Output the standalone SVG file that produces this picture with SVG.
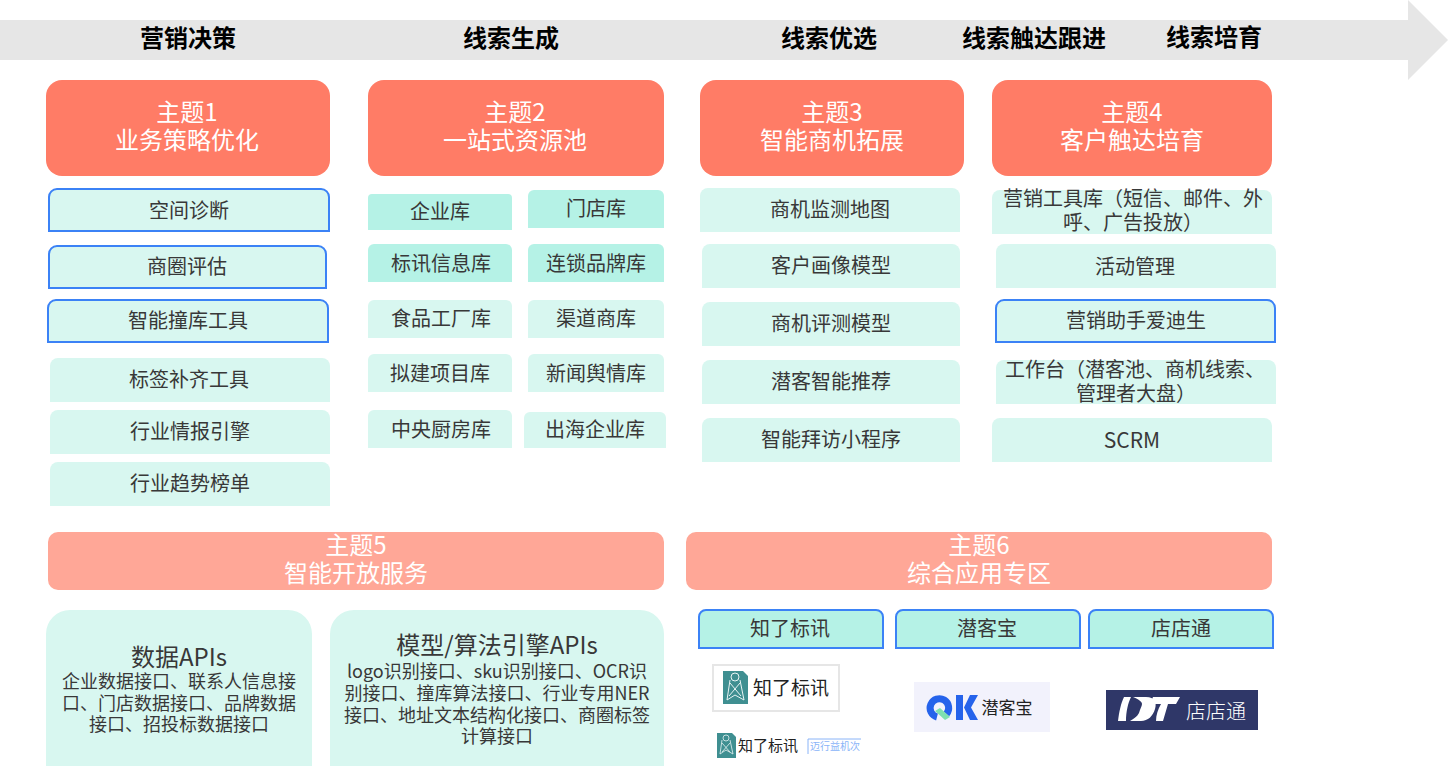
<svg xmlns="http://www.w3.org/2000/svg" width="1450" height="766" viewBox="0 0 1450 766">
<style>
text{font-family:"Noto Sans CJK SC","Noto Sans",sans-serif;text-anchor:middle}
.stage{font-size:24px;font-weight:700;fill:#000}
.head{font-size:24px;fill:#fff;font-weight:400}
.item{font-size:20px;fill:#383838}
.t{fill:#ff7c66}.t2{fill:#ffa797}
.l{fill:#d8f7f0}.d{fill:#b5f2e6}
.b{stroke:#3b82f6;stroke-width:2}
</style>
<rect width="1450" height="766" fill="#fff"/>
<g id="flow-arrow"><polygon points="0,20 1408,20 1408,0 1448,40 1408,80 1408,60 0,60" fill="#e6e6e6"/>
<text class="stage" x="188" y="47">营销决策</text><text class="stage" x="511" y="47">线索生成</text><text class="stage" x="829" y="47">线索优选</text><text class="stage" x="1034" y="47">线索触达跟进</text><text class="stage" x="1214" y="46">线索培育</text></g>
<g id="theme1"><rect class="t" x="46" y="80" width="284" height="96" rx="16"/><text class="head" x="187" y="121">主题1</text><text class="head" x="187" y="149">业务策略优化</text></g>
<g id="theme2"><rect class="t" x="368" y="80" width="296" height="96" rx="16"/><text class="head" x="515" y="121">主题2</text><text class="head" x="515" y="149">一站式资源池</text></g>
<g id="theme3"><rect class="t" x="700" y="80" width="264" height="96" rx="16"/><text class="head" x="832" y="121">主题3</text><text class="head" x="832" y="149">智能商机拓展</text></g>
<g id="theme4"><rect class="t" x="992" y="80" width="280" height="96" rx="16"/><text class="head" x="1132" y="121">主题4</text><text class="head" x="1132" y="149">客户触达培育</text></g>

<g id="n1"><path class="l b" d="M49,231V197a8,8 0 0 1 8-8H321a8,8 0 0 1 8,8V231Z"/><text class="item" x="189" y="218">空间诊断</text></g>
<g id="n2"><path class="l b" d="M49,288V254a8,8 0 0 1 8-8H318a8,8 0 0 1 8,8V288Z"/><text class="item" x="187" y="274">商圈评估</text></g>
<g id="n3"><path class="l b" d="M48,342V308a8,8 0 0 1 8-8H320a8,8 0 0 1 8,8V342Z"/><text class="item" x="188" y="328">智能撞库工具</text></g>
<g id="n4"><path class="l" d="M50,402V366a8,8 0 0 1 8-8H322a8,8 0 0 1 8,8V402Z"/><text class="item" x="189" y="387">标签补齐工具</text></g>
<g id="n5"><path class="l" d="M50,454V418a8,8 0 0 1 8-8H322a8,8 0 0 1 8,8V454Z"/><text class="item" x="190" y="439">行业情报引擎</text></g>
<g id="n6"><path class="l" d="M50,506V470a8,8 0 0 1 8-8H322a8,8 0 0 1 8,8V506Z"/><text class="item" x="190" y="491">行业趋势榜单</text></g>

<g id="n7"><path class="d" d="M368,230V198a4,4 0 0 1 4-4H508a4,4 0 0 1 4,4V230Z"/><text class="item" x="440" y="219">企业库</text></g>
<g id="n8"><path class="d" d="M368,282V250a6,6 0 0 1 6-6H506a6,6 0 0 1 6,6V282Z"/><text class="item" x="441" y="271">标讯信息库</text></g>
<g id="n9"><path class="l" d="M368,338V306a6,6 0 0 1 6-6H506a6,6 0 0 1 6,6V338Z"/><text class="item" x="441" y="326">食品工厂库</text></g>
<g id="n10"><path class="l" d="M368,392V360a6,6 0 0 1 6-6H506a6,6 0 0 1 6,6V392Z"/><text class="item" x="440" y="381">拟建项目库</text></g>
<g id="n11"><path class="l" d="M368,448V416a6,6 0 0 1 6-6H506a6,6 0 0 1 6,6V448Z"/><text class="item" x="441" y="437">中央厨房库</text></g>
<g id="n12"><path class="d" d="M528,228V196a6,6 0 0 1 6-6H658a6,6 0 0 1 6,6V228Z"/><text class="item" x="596" y="216">门店库</text></g>
<g id="n13"><path class="d" d="M528,282V250a6,6 0 0 1 6-6H658a6,6 0 0 1 6,6V282Z"/><text class="item" x="596" y="271">连锁品牌库</text></g>
<g id="n14"><path class="l" d="M528,338V306a6,6 0 0 1 6-6H658a6,6 0 0 1 6,6V338Z"/><text class="item" x="596" y="326">渠道商库</text></g>
<g id="n15"><path class="l" d="M528,392V360a6,6 0 0 1 6-6H658a6,6 0 0 1 6,6V392Z"/><text class="item" x="596" y="381">新闻舆情库</text></g>
<g id="n16"><path class="l" d="M524,448V418a6,6 0 0 1 6-6H660a6,6 0 0 1 6,6V448Z"/><text class="item" x="595" y="437">出海企业库</text></g>

<g id="n17"><path class="l" d="M700,232V196a8,8 0 0 1 8-8H952a8,8 0 0 1 8,8V232Z"/><text class="item" x="830" y="217">商机监测地图</text></g>
<g id="n18"><path class="l" d="M702,288V252a8,8 0 0 1 8-8H952a8,8 0 0 1 8,8V288Z"/><text class="item" x="831" y="273">客户画像模型</text></g>
<g id="n19"><path class="l" d="M702,346V310a8,8 0 0 1 8-8H952a8,8 0 0 1 8,8V346Z"/><text class="item" x="831" y="331">商机评测模型</text></g>
<g id="n20"><path class="l" d="M702,404V368a8,8 0 0 1 8-8H952a8,8 0 0 1 8,8V404Z"/><text class="item" x="831" y="389">潜客智能推荐</text></g>
<g id="n21"><path class="l" d="M702,462V426a8,8 0 0 1 8-8H952a8,8 0 0 1 8,8V462Z"/><text class="item" x="831" y="447">智能拜访小程序</text></g>

<g id="n22"><path class="l" d="M992,234V198a8,8 0 0 1 8-8H1264a8,8 0 0 1 8,8V234Z"/><text class="item" x="1133" y="206">营销工具库（短信、邮件、外</text><text class="item" x="1133" y="230">呼、广告投放）</text></g>
<g id="n23"><path class="l" d="M996,288V252a8,8 0 0 1 8-8H1268a8,8 0 0 1 8,8V288Z"/><text class="item" x="1135" y="274">活动管理</text></g>
<g id="n24"><path class="l b" d="M996,342V308a8,8 0 0 1 8-8H1267a8,8 0 0 1 8,8V342Z"/><text class="item" x="1136" y="328">营销助手爱迪生</text></g>
<g id="n25"><path class="l" d="M996,404V368a8,8 0 0 1 8-8H1268a8,8 0 0 1 8,8V404Z"/><text class="item" x="1135" y="377">工作台（潜客池、商机线索、</text><text class="item" x="1136" y="401">管理者大盘）</text></g>
<g id="n26"><path class="l" d="M992,462V426a8,8 0 0 1 8-8H1264a8,8 0 0 1 8,8V462Z"/><text class="item" x="1132" y="448" style="font-size:21px">SCRM</text></g>

<g id="theme5"><rect class="t2" x="48" y="532" width="616" height="58" rx="10"/><text class="head" x="356" y="554">主题5</text><text class="head" x="356" y="582">智能开放服务</text></g>
<g id="theme6"><rect class="t2" x="686" y="532" width="586" height="58" rx="10"/><text class="head" x="979" y="554">主题6</text><text class="head" x="979" y="582">综合应用专区</text></g>

<g id="api1"><path class="l" d="M46,770V634a24,24 0 0 1 24-24H288a24,24 0 0 1 24,24V770Z"/><text x="179" y="666" style="font-size:24px;fill:#383838">数据APIs</text><g class="item" style="font-size:18px"><text x="179" y="688">企业数据接口、联系人信息接</text><text x="179" y="710">口、门店数据接口、品牌数据</text><text x="179" y="731">接口、招投标数据接口</text></g></g>
<g id="api2"><path class="l" d="M330,770V634a24,24 0 0 1 24-24H640a24,24 0 0 1 24,24V770Z"/><text x="497" y="654" style="font-size:24px;fill:#383838">模型/算法引擎APIs</text><g class="item" style="font-size:18px"><text x="497" y="678">logo识别接口、sku识别接口、OCR识</text><text x="497" y="700">别接口、撞库算法接口、行业专用NER</text><text x="497" y="722">接口、地址文本结构化接口、商圈标签</text><text x="497" y="743">计算接口</text></g></g>

<g id="p1"><path class="d b" d="M699,648V617a7,7 0 0 1 7-7H876a7,7 0 0 1 7,7V648Z"/><text class="item" x="790" y="636">知了标讯</text></g>
<g id="p2"><path class="d b" d="M896,648V617a7,7 0 0 1 7-7H1073a7,7 0 0 1 7,7V648Z"/><text class="item" x="987" y="636">潜客宝</text></g>
<g id="p3"><path class="d b" d="M1089,648V617a7,7 0 0 1 7-7H1266a7,7 0 0 1 7,7V648Z"/><text class="item" x="1181" y="636">店店通</text></g>

<g id="logo1"><rect x="713" y="665" width="126" height="46" fill="#fff" stroke="#e6e6e6" stroke-width="2"/><path d="M723,671H743L748,676V704H723Z" fill="#3f8f91"/><g fill="none" stroke="#e8f4f4" stroke-width="1"><circle cx="735" cy="677" r="4"/><path d="M730,680l-3,20 8-5 9,5-4-20M730,683l11,13M740,683l-11,13"/></g><text x="791" y="695" style="font-size:19px;fill:#222">知了标讯</text></g>
<g id="logo1b"><path d="M717,733H732L736,737V758H717Z" fill="#3f8f91"/><g fill="none" stroke="#e8f4f4" stroke-width=".8"><circle cx="726" cy="738" r="3"/><path d="M722,740l-2,14 6-4 7,4-3-14M722,743l8,9M730,743l-8,9"/></g><text x="768" y="751" style="font-size:15px;fill:#222">知了标讯</text><path d="M861,739H808V754" fill="none" stroke="#8ab4f8"/><text x="835" y="750" style="font-size:10px;fill:#8ab4f8">迈行益机次</text></g>
<g id="logo2"><rect x="914" y="682" width="136" height="50" fill="#f2f2fc"/><path d="M937,717a9.300,9.300 0 1 1 9.500,-3" fill="none" stroke="#2563eb" stroke-width="7"/><path d="M935,711l5-3 10,9-5,3z" fill="#7ee0b0"/><path d="M956,695h7v25h-7zM964,707.500l6-12.500h8l-7,12.500 7,12.500h-8z" fill="#2563eb"/><text x="1007" y="714" style="font-size:17px;fill:#222">潜客宝</text></g>
<g id="logo3"><rect x="1106" y="690" width="152" height="40" fill="#2f3768"/><path d="M1124,697h7c-3,6-5,15-5,24h-8c1-9 3-18 6-24zM1133,697h13c9,0 11,6 9,12-2,7-7,12-14,12h-11c3-2 7-4 9-8 1-4 3-7 3-9 0-2-2-4-9-7zM1153,697h27l-4,7h-8l-5,17h-7c0-6 2-12 5-17h-11z" fill="#fff"/><text x="1216" y="719" style="font-size:20px;fill:#fff;font-weight:300">店店通</text></g>
<g id="connectors"/>
</svg>
